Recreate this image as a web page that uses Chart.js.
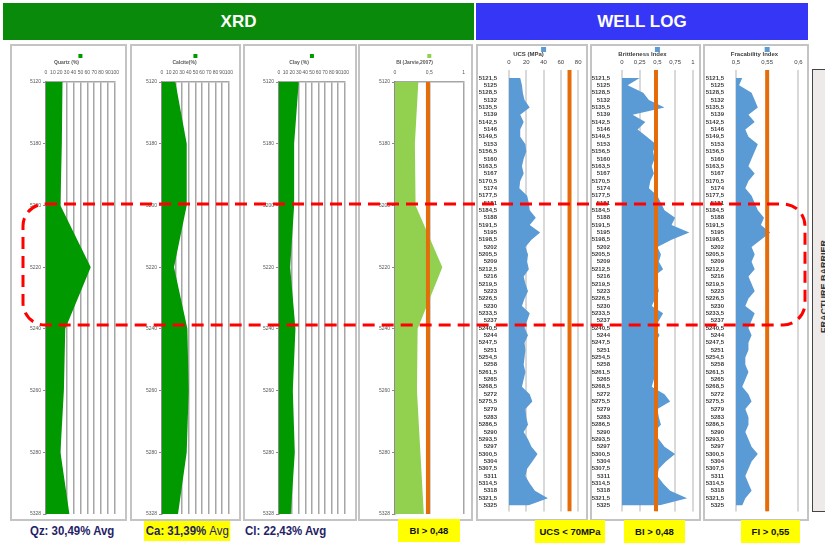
<!DOCTYPE html>
<html>
<head>
<meta charset="utf-8">
<script src="https://cdn.jsdelivr.net/npm/chart.js@4.4.1/dist/chart.umd.min.js"></script>
<style>
  body { margin: 0; width: 825px; height: 543px; overflow: hidden; background: #fff; position: relative; font-family: "Liberation Sans", Arial, sans-serif; }
  .hdr { position: absolute; top: 3px; height: 37px; color: #fff; font-weight: bold; font-size: 17px; display: flex; align-items: center; justify-content: center; }
  .panel { position: absolute; top: 44px; height: 477px; border: 2px solid #c4c4c4; box-sizing: border-box; background: #fff; }
  .panel canvas { position: absolute; left: 0; top: 0; }
  .avg { position: absolute; top: 521px; height: 20px; line-height: 20px; font-size: 13px; font-weight: bold; color: #1f2266; white-space: nowrap; transform: scaleX(0.88); transform-origin: 0 0; }
  .tag { position: absolute; background: #ffff00; font-size: 9.5px; font-weight: bold; color: #111; display: flex; align-items: center; justify-content: center; }
  #side { position: absolute; left: 812px; top: 69px; width: 30px; height: 441px; border: 1px solid #444; background: #efeaea; overflow: hidden; }
  #side span { position: absolute; left: 6px; top: 170px; font-size: 9px; font-weight: bold; color: #333; writing-mode: vertical-rl; transform: rotate(180deg); }
  svg { position: absolute; left: 0; top: 0; pointer-events: none; }
</style>
</head>
<body>
<div class="hdr" style="left:3px;width:471px;background:#0a8a0a;">XRD</div>
<div class="hdr" style="left:476px;width:332px;background:#3636f6;">WELL LOG</div>

<div class="panel" style="left:10px;width:117px;"><canvas id="c1"></canvas></div>
<div class="panel" style="left:130px;width:111px;"><canvas id="c2"></canvas></div>
<div class="panel" style="left:243px;width:114px;"><canvas id="c3"></canvas></div>
<div class="panel" style="left:358px;width:115px;"><canvas id="c4"></canvas></div>
<div class="panel" style="left:476px;width:112px;"><canvas id="c5"></canvas></div>
<div class="panel" style="left:590px;width:111px;"><canvas id="c6"></canvas></div>
<div class="panel" style="left:703px;width:106px;"><canvas id="c7"></canvas></div>

<div id="side"><span>FRACTURE BARRIER</span></div>

<div class="avg" style="left:30px;">Qz: 30,49% Avg</div>
<div class="avg" style="left:144px;background:#ffff00;padding:0 2px;">Ca: 31,39% <span style="font-weight:normal">Avg</span></div>
<div class="avg" style="left:245px;">Cl: 22,43% Avg</div>
<div class="tag" style="left:398px;top:519px;width:62px;height:23px;">BI &gt; 0,48</div>
<div class="tag" style="left:535px;top:520px;width:70px;height:23px;">UCS &lt; 70MPa</div>
<div class="tag" style="left:624px;top:520px;width:61px;height:23px;">BI &gt; 0,48</div>
<div class="tag" style="left:741px;top:520px;width:59px;height:23px;">FI &gt; 0,55</div>

<svg width="825" height="543">
  <rect x="23" y="204" width="782" height="121" rx="22" ry="22" fill="none" stroke="#ff0000" stroke-width="3" stroke-dasharray="12 7"/>
</svg>

<script>
// XRD samples (category depths)
const xrdDepths = ['5120', '5180', '5200', '5220', '5240', '5260', '5280', '5328'];
const quartz = [24, 23, 21, 65, 28, 26, 21, 34];
const calcite = [20, 37, 37, 18, 38, 40, 37, 24];
const clay = [30, 23, 23, 17, 25, 21, 24, 18];
const biJarvie = [0.34, 0.29, 0.30, 0.69, 0.33, 0.32, 0.37, 0.42];

// well log depths (also the tick labels)
const logDepths = [5121.5, 5125, 5128.5, 5132, 5135.5, 5139, 5142.5, 5146, 5149.5, 5153,
  5156.5, 5160, 5163.5, 5167, 5170.5, 5174, 5177.5, 5181, 5184.5, 5188,
  5191.5, 5195, 5198.5, 5202, 5205.5, 5209, 5212.5, 5216, 5219.5, 5223,
  5226.5, 5230, 5233.5, 5237, 5240.5, 5244, 5247.5, 5251, 5254.5, 5258,
  5261.5, 5265, 5268.5, 5272, 5275.5, 5279, 5283, 5286.5, 5290, 5293.5,
  5297, 5300.5, 5304, 5307.5, 5311, 5314.5, 5318, 5321.5, 5325];
const ucs = [13, 15, 16, 18, 24, 13, 17, 13, 13, 19, 20, 17, 15, 17, 13, 12, 21, 23, 24, 31,
  24, 36, 26, 19, 22, 21, 23, 17, 19, 22, 18, 15, 24, 21, 18, 22, 18, 19, 18, 17,
  19, 17, 15, 24, 27, 19, 20, 22, 17, 22, 26, 33, 27, 21, 19, 24, 30, 45, 22];
const brittleness = [0.25, 0.08, 0.3, 0.38, 0.6, 0.15, 0.33, 0.22, 0.35, 0.48,
  0.44, 0.46, 0.42, 0.45, 0.4, 0.38, 0.5, 0.55, 0.6, 0.75,
  0.7, 0.95, 0.7, 0.5, 0.55, 0.52, 0.58, 0.45, 0.5, 0.52,
  0.47, 0.42, 0.58, 0.52, 0.47, 0.53, 0.47, 0.5, 0.46, 0.45,
  0.5, 0.45, 0.42, 0.6, 0.68, 0.5, 0.52, 0.55, 0.45, 0.52,
  0.6, 0.75, 0.62, 0.52, 0.5, 0.58, 0.68, 0.92, 0.52];
const fracability = [0.51, 0.505, 0.525, 0.53, 0.535, 0.52, 0.53, 0.515, 0.52, 0.535,
  0.53, 0.525, 0.52, 0.53, 0.52, 0.515, 0.525, 0.53, 0.535, 0.545,
  0.54, 0.555, 0.54, 0.525, 0.53, 0.525, 0.53, 0.52, 0.525, 0.53,
  0.52, 0.515, 0.53, 0.525, 0.52, 0.525, 0.52, 0.52, 0.515, 0.515,
  0.52, 0.515, 0.51, 0.52, 0.525, 0.515, 0.52, 0.52, 0.515, 0.52,
  0.525, 0.535, 0.525, 0.52, 0.515, 0.52, 0.525, 0.515, 0.51];

const ucsCut = 70, biCut = 0.48, fiCut = 0.55;

const GREEN = '#009900', LIGHTGREEN = '#92d050', BLUE = '#5b9bd5', ORANGE = '#e46c0a';

Chart.defaults.font.family = '"Liberation Sans", Arial, sans-serif';
Chart.defaults.animation = false;

function comma(v) { return String(v).replace('.', ','); }

// little square above the title, like the excel legend
const legendSquare = {
  id: 'legendSquare',
  afterDraw(chart, args, o) {
    if (!o.color) return;
    const a = chart.chartArea, ctx = chart.ctx;
    ctx.save();
    ctx.fillStyle = o.color;
    ctx.fillRect((a.left + a.right) / 2 - o.size / 2, o.y, o.size, o.size);
    ctx.restore();
  }
};
Chart.register(legendSquare);

function sizeCanvas(id) {
  const c = document.getElementById(id);
  const p = c.parentElement;
  c.width = p.clientWidth;
  c.height = p.clientHeight;
  return c;
}

// XRD track: categories on y, % on x (top)
function xrdTrack(id, title, values, color, plotL, plotR, xOpt, cut) {
  const c = sizeCanvas(id);
  const pageL = c.parentElement.offsetLeft + 2;
  const datasets = [];
  if (cut !== undefined) {
    datasets.push({ data: [{ x: cut, y: xrdDepths[0] }, { x: cut, y: xrdDepths[xrdDepths.length - 1] }],
      borderColor: ORANGE, borderWidth: 4, pointRadius: 0, fill: false, order: 0 });
  }
  datasets.push({ data: values, backgroundColor: color, borderWidth: 0, pointRadius: 0,
    fill: { value: xOpt.min }, tension: 0, order: 1 });
  return new Chart(c, {
    type: 'line',
    data: { labels: xrdDepths, datasets: datasets },
    options: {
      responsive: false, indexAxis: 'y',
      layout: { padding: { left: 0, right: c.width - (plotR - pageL), top: 0, bottom: 4 } },
      plugins: {
        legend: { display: false }, tooltip: { enabled: false },
        title: { display: true, text: title, color: '#595959', font: { size: 5 }, padding: { top: 14, bottom: 3 } },
        legendSquare: { color: color, y: 8, size: 4 }
      },
      scales: {
        x: {
          type: 'linear', position: 'top', min: xOpt.min, max: xOpt.max,
          ticks: { stepSize: xOpt.step, color: '#595959', font: { size: 5 }, padding: 6, maxRotation: 0,
            autoSkip: false, callback: v => comma(v) },
          grid: { color: '#a6a6a6', lineWidth: 1.5, drawTicks: false },
          border: { display: true, color: '#a6a6a6', width: 1.5 },
          afterFit: s => { s.height = 36 - 23; }
        },
        y: {
          type: 'category', offset: false,
          ticks: { color: '#595959', font: { size: 5 }, padding: 2, autoSkip: false },
          grid: { drawOnChartArea: false, drawTicks: true, tickLength: 3, color: '#8c8c8c' },
          border: { display: true, color: '#8c8c8c', width: 1.5 },
          afterFit: s => { s.width = plotL - pageL; }
        }
      }
    }
  });
}

// well log track: linear depth on y, value on x (top)
function logTrack(id, title, values, plotL, plotR, xOpt, cut) {
  const c = sizeCanvas(id);
  const pageL = c.parentElement.offsetLeft + 2;
  const yMin = 5117.7, yMax = 5327.8;
  return new Chart(c, {
    type: 'line',
    data: {
      datasets: [
        { data: [{ x: cut, y: yMin }, { x: cut, y: yMax }], borderColor: ORANGE, borderWidth: 4,
          pointRadius: 0, fill: false, order: 0 },
        { data: logDepths.map((d, i) => ({ x: values[i], y: d })), backgroundColor: BLUE, borderWidth: 0,
          pointRadius: 0, fill: { value: xOpt.min }, tension: 0, order: 1 }
      ]
    },
    options: {
      responsive: false, indexAxis: 'y',
      layout: { padding: { left: 0, right: c.width - (plotR - pageL), top: 0, bottom: 4 } },
      plugins: {
        legend: { display: false }, tooltip: { enabled: false },
        title: { display: true, text: title, color: '#404040', font: { size: 6 }, padding: { top: 5, bottom: 1 } },
        legendSquare: { color: BLUE, y: 1, size: 5 }
      },
      scales: {
        x: {
          type: 'linear', position: 'top', min: xOpt.min, max: xOpt.max,
          ticks: { stepSize: xOpt.step, color: '#404040', font: { size: 6 }, padding: 4.5, maxRotation: 0,
            autoSkip: false, callback: v => comma(v) },
          grid: { color: '#d9d9d9', lineWidth: 2, drawTicks: false },
          border: { display: false },
          afterFit: s => { s.height = 24 - 13.2; }
        },
        y: {
          type: 'linear', reverse: true, min: yMin, max: yMax,
          afterBuildTicks: s => { s.ticks = logDepths.map(v => ({ value: v })); },
          ticks: { autoSkip: false, color: '#404040', font: { size: 6, weight: 'bold' }, padding: 4,
            callback: v => comma(v) },
          grid: { display: false },
          border: { display: false },
          afterFit: s => { s.width = plotL - pageL; }
        }
      }
    }
  });
}

xrdTrack('c1', 'Quartz (%)', quartz, GREEN, 46, 121, { min: 0, max: 100, step: 10 });
xrdTrack('c2', 'Calcite(%)', calcite, GREEN, 162, 237, { min: 0, max: 100, step: 10 });
xrdTrack('c3', 'Clay (%)', clay, GREEN, 279, 353, { min: 0, max: 100, step: 10 });
xrdTrack('c4', 'BI (Jarvie,2007)', biJarvie, LIGHTGREEN, 395, 469, { min: 0, max: 1, step: 0.5 }, biCut);

logTrack('c5', 'UCS (MPa)', ucs, 509, 579, { min: 0, max: 80, step: 20 }, ucsCut);
logTrack('c6', 'Brittleness Index', brittleness, 622, 693, { min: 0, max: 1, step: 0.25 }, biCut);
logTrack('c7', 'Fracability Index', fracability, 736, 804, { min: 0.5, max: 0.6, step: 0.05 }, fiCut);
</script>
</body>
</html>
